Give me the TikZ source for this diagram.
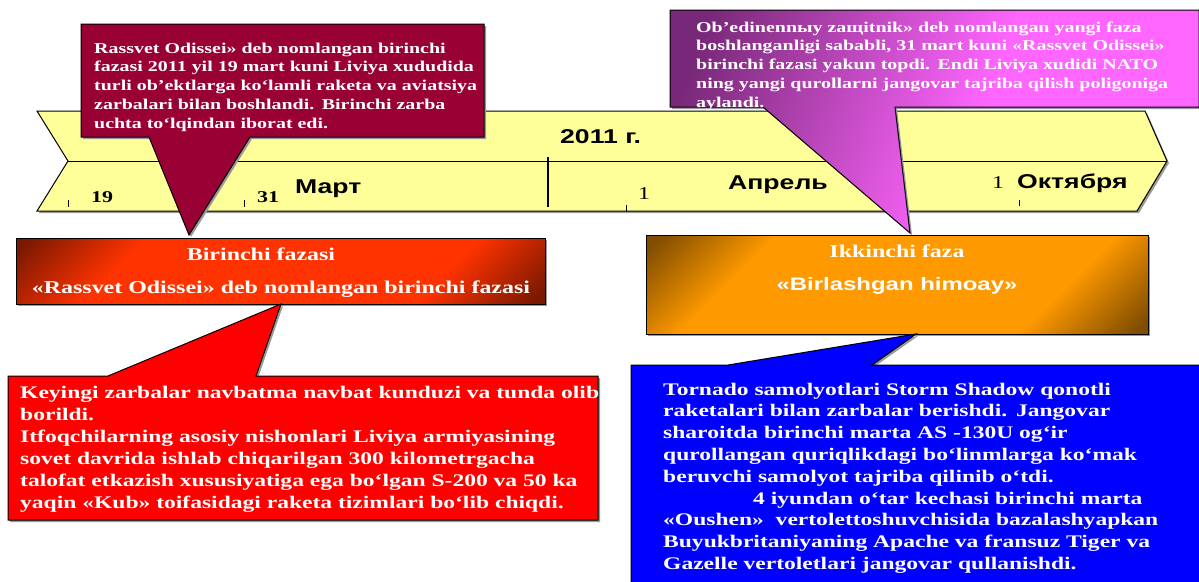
\documentclass[tikz,border=0pt]{standalone}
\usepackage{fontspec}
\setmainfont{Liberation Serif}[FakeStretch=1.33]
\setsansfont{Liberation Sans}[FakeStretch=1.33]
\usetikzlibrary{shadows}
\definecolor{bandyellow}{HTML}{FFFF99}
\definecolor{calloutmaroon}{HTML}{990033}
\definecolor{calloutred}{HTML}{FF0000}
\definecolor{calloutblue}{HTML}{0000FF}
\definecolor{violetdark}{HTML}{782878}
\definecolor{violetpink}{HTML}{FF66FF}
\definecolor{firstdark}{HTML}{7A1800}
\definecolor{firstlight}{HTML}{FF3300}
\definecolor{seconddark}{HTML}{7F4C00}
\definecolor{secondlight}{HTML}{FF9900}
\pgfdeclarehorizontalshading{firstphase}{100bp}{color(0bp)=(firstdark); color(16bp)=(firstdark); color(30bp)=(firstlight); color(70bp)=(firstlight); color(84bp)=(firstdark); color(100bp)=(firstdark)}
\pgfdeclarehorizontalshading{secondphase}{100bp}{color(0bp)=(seconddark); color(16bp)=(seconddark); color(30bp)=(secondlight); color(70bp)=(secondlight); color(84bp)=(seconddark); color(100bp)=(seconddark)}
\pgfdeclarehorizontalshading{violetfade}{100bp}{color(0bp)=(violetdark); color(22bp)=(violetdark); color(55bp)=(violetpink); color(100bp)=(violetpink)}
\begin{document}
\begin{tikzpicture}[x=1pt,y=-1pt,line join=miter]
\tikzset{shadowed/.style={drop shadow={shadow xshift=2pt,shadow yshift=-2pt,fill=black!40,opacity=1}},
framed/.style={draw=black,line width=1pt,shadowed},
frame/.style={inner sep=0,outer sep=0,anchor=north west},
phasebox/.style={frame,framed,shade,shading angle=-45},
calltext/.style 2 args={text=white,inner sep=0,anchor=base west,align=left,text width=600pt,font=\bfseries\fontsize{#1}{#2}\selectfont},
phasetext/.style={text=white,inner sep=0,anchor=base,font=\bfseries\fontsize{18}{22}\selectfont},
monthlabel/.style={inner sep=0,anchor=base west,font=\sffamily\bfseries\fontsize{20}{24}\selectfont},
daylabel/.style={inner sep=0,anchor=base west,font=\bfseries\fontsize{16.5}{20}\selectfont}}
\useasboundingbox (0,0) rectangle (1199,581);
% timeline band
\path[framed,fill=bandyellow] (37,111) -- (1145,111) -- (1167,161) -- (1137,211) -- (37,211) -- (68,161) -- cycle;
\draw[line width=1pt] (68,161) -- (1167,161);
\draw[line width=1.2pt] (548,157) -- (548,207);
\foreach \x/\ya/\yb in {68/200/207,244/200/207,626/205/212,1019/200/206}
\draw[line width=1pt] (\x,\ya) -- (\x,\yb);
\node[monthlabel] (year) at (560,143) {2011 г.};
\node[monthlabel] (march) at (295,193) {Март};
\node[monthlabel] (april) at (728,189) {Апрель};
\node[monthlabel] (october) at (1017,188) {Октября};
\node[daylabel] (day19) at (91,202) {19};
\node[daylabel] (day31) at (257,202) {31};
\node[daylabel,font=\fontsize{18}{20}\selectfont] (day1a) at (638,199) {1};
\node[daylabel,font=\fontsize{18}{20}\selectfont] (day1b) at (992,188) {1};
% phases
\node[phasebox,shading=firstphase,minimum width=529,minimum height=66] (phase1) at (16,238) {};
\node[phasebox,shading=secondphase,minimum width=502,minimum height=99] (phase2) at (646,235) {};
\node[phasetext] (phase1-title) at (261,260) {Birinchi fazasi};
\node[phasetext] (phase1-name) at (281,293) {«Rassvet Odissei» deb nomlangan birinchi fazasi};
\node[phasetext] (phase2-title) at (897,257) {Ikkinchi faza};
\node[phasetext,font=\sffamily\bfseries\fontsize{18}{22}\selectfont] (phase2-name) at (897,290) {«Birlashgan himoay»};
% callouts
\node[frame,minimum width=403,minimum height=113] (odyssey) at (81,24) {};
\coordinate (odyssey-tip) at ([shift={(173,-3)}]phase1.north west);
\path[framed,fill=calloutmaroon] (odyssey.north west) -- (odyssey.north east) -- (odyssey.south east) -- (250,137) -- (odyssey-tip) -- (149,137) -- (odyssey.south west) -- cycle;
\node[frame,minimum width=529,minimum height=97] (defender) at (670,10) {};
\coordinate (defender-tip) at ([shift={(264,-2)}]phase2.north west);
\path[framed,shade,shading=violetfade,shading angle=-20] (defender.north west) -- (defender.north east) -- (defender.south east) -- (895,107) -- (defender-tip) -- (763,107) -- (defender.south west) -- cycle;
\node[frame,minimum width=590,minimum height=144] (strikes) at (8,376) {};
\path[framed,fill=calloutred] (strikes.north west) -- (108,376) -- ([xshift=265]phase1.south west) -- (256,376) -- (strikes.north east) -- (strikes.south east) -- (strikes.south west) -- cycle;
\node[frame,minimum width=580,minimum height=230] (tornado) at (631,365) {};
\path[framed,fill=calloutblue] (tornado.north west) -- (728,365) -- ([xshift=270]phase2.south west) -- (872,365) -- (tornado.north east) -- (tornado.south east) -- (tornado.south west) -- cycle;
\node[calltext={15}{18.75}] (odyssey-text) at (94,53) {Rassvet Odissei» deb nomlangan birinchi\\
fazasi 2011 yil 19 mart kuni Liviya xududida\\
turli ob’ektlarga ko‘lamli raketa va aviatsiya\\
zarbalari bilan boshlandi. Birinchi zarba\\
uchta to‘lqindan iborat edi.};
\node[calltext={15}{18.85}] (defender-text) at (696,32) {Ob’edinennыy zaщitnik» deb nomlangan yangi faza\\
boshlanganligi sababli, 31 mart kuni «Rassvet Odissei»\\
birinchi fazasi yakun topdi. Endi Liviya xudidi NATO\\
ning yangi qurollarni jangovar tajriba qilish poligoniga\\
aylandi.};
\node[calltext={17.7}{22}] (strikes-text) at (20,398) {Keyingi zarbalar navbatma navbat kunduzi va tunda olib\\
borildi.\\
Itfoqchilarning asosiy nishonlari Liviya armiyasining\\
sovet davrida ishlab chiqarilgan 300 kilometrgacha\\
talofat etkazish xususiyatiga ega bo‘lgan S-200 va 50 ka\\
yaqin «Kub» toifasidagi raketa tizimlari bo‘lib chiqdi.};
\node[calltext={17.7}{21.8}] (tornado-text) at (663,395) {Tornado samolyotlari Storm Shadow qonotli\\
raketalari bilan zarbalar berishdi. Jangovar\\
sharoitda birinchi marta AS -130U og‘ir\\
qurollangan quriqlikdagi bo‘linmlarga ko‘mak\\
beruvchi samolyot tajriba qilinib o‘tdi.\\
\hspace*{90pt}4 iyundan o‘tar kechasi birinchi marta\\
«Oushen»\ \ vertolettoshuvchisida bazalashyapkan\\
Buyukbritaniyaning Apache va fransuz Tiger va\\
Gazelle vertoletlari jangovar qullanishdi.};
\end{tikzpicture}
\end{document}
